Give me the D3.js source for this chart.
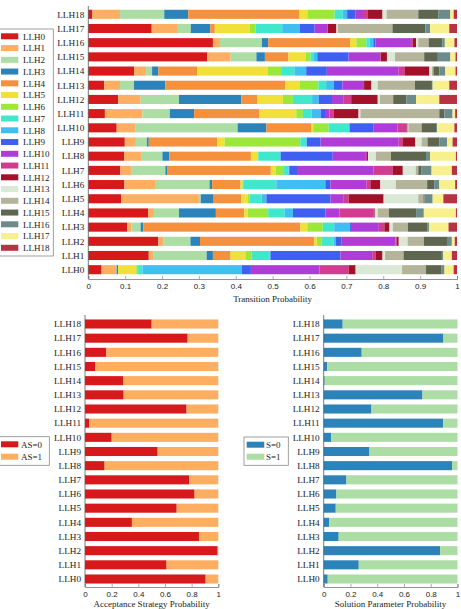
<!DOCTYPE html>
<html lang="en">
<head>
<meta charset="UTF-8">
<title>LLH probabilities</title>
<script src="https://d3js.org/d3.v7.min.js"></script>
<style>
  body { margin: 0; background: #fff; }
  svg { display: block; font-family: "Liberation Serif", "DejaVu Serif", serif; }
  .tick text { font-size: 8px; fill: #222; }
  .ylab { font-size: 9.2px; fill: #222; }
  .legend text { font-size: 9px; fill: #222; }
  .title { font-size: 9px; fill: #222; }
</style>
</head>
<body>
<svg width="461" height="609"></svg>
<script>

var states = ["LLH0","LLH1","LLH2","LLH3","LLH4","LLH5","LLH6","LLH7","LLH8","LLH9",
              "LLH10","LLH11","LLH12","LLH13","LLH14","LLH15","LLH16","LLH17","LLH18"];

var stateColours = ["#d7191c","#fdae61","#abdda4","#2b83ba","#f5903d","#f2e03a","#9ce83a",
                    "#3fe8cc","#3fbff0","#3f5ff0","#b03cd8","#d23c90","#a3102a","#dbe8d5",
                    "#b4b49a","#5f6650","#6b8c8a","#f8f08c","#b73243"];

// transition probabilities, one row per current state (LLH0 first), columns = next state
var transition = [
  [0.036,0.039,0.002,0.004,0.000,0.049,0.005,0.012,0.269,0.025,0.186,0.079,0.019,0.126,0.065,0.041,0.009,0.025,0.009],
  [0.164,0.012,0.145,0.017,0.048,0.040,0.017,0.049,0.002,0.190,0.086,0.010,0.018,0.007,0.050,0.104,0.003,0.024,0.014],
  [0.190,0.013,0.074,0.026,0.309,0.008,0.012,0.034,0.005,0.015,0.147,0.003,0.006,0.024,0.044,0.065,0.011,0.008,0.006],
  [0.105,0.012,0.025,0.007,0.426,0.019,0.042,0.031,0.043,0.005,0.073,0.015,0.014,0.009,0.041,0.052,0.005,0.053,0.023],
  [0.163,0.015,0.068,0.100,0.077,0.009,0.056,0.044,0.023,0.088,0.038,0.093,0.003,0.008,0.030,0.074,0.021,0.087,0.003],
  [0.089,0.211,0.005,0.035,0.075,0.018,0.004,0.033,0.013,0.174,0.036,0.013,0.095,0.094,0.014,0.003,0.022,0.029,0.037],
  [0.098,0.083,0.148,0.007,0.077,0.005,0.002,0.090,0.133,0.014,0.098,0.010,0.027,0.042,0.085,0.019,0.014,0.043,0.005],
  [0.087,0.029,0.093,0.006,0.280,0.014,0.022,0.012,0.002,0.021,0.208,0.051,0.028,0.035,0.007,0.009,0.027,0.055,0.014],
  [0.097,0.048,0.056,0.019,0.221,0.018,0.002,0.059,0.002,0.141,0.090,0.003,0.003,0.021,0.041,0.095,0.011,0.070,0.003],
  [0.099,0.030,0.030,0.005,0.186,0.020,0.205,0.016,0.002,0.037,0.212,0.010,0.035,0.017,0.016,0.032,0.021,0.015,0.012],
  [0.077,0.050,0.278,0.078,0.122,0.005,0.042,0.055,0.002,0.065,0.065,0.025,0.002,0.002,0.036,0.039,0.003,0.047,0.007],
  [0.045,0.102,0.074,0.066,0.176,0.101,0.018,0.024,0.024,0.012,0.012,0.012,0.067,0.005,0.214,0.014,0.022,0.007,0.005],
  [0.081,0.061,0.104,0.169,0.044,0.069,0.027,0.052,0.018,0.036,0.032,0.020,0.072,0.006,0.036,0.036,0.026,0.063,0.048],
  [0.043,0.043,0.038,0.085,0.325,0.039,0.051,0.021,0.021,0.023,0.056,0.003,0.020,0.017,0.101,0.046,0.002,0.045,0.021],
  [0.124,0.033,0.016,0.017,0.106,0.190,0.037,0.036,0.032,0.056,0.195,0.017,0.066,0.007,0.004,0.016,0.016,0.028,0.004],
  [0.323,0.063,0.070,0.023,0.064,0.046,0.014,0.009,0.009,0.085,0.086,0.001,0.017,0.022,0.079,0.037,0.034,0.014,0.004],
  [0.338,0.019,0.114,0.017,0.222,0.017,0.027,0.009,0.010,0.006,0.096,0.005,0.009,0.006,0.028,0.037,0.007,0.026,0.007],
  [0.172,0.071,0.035,0.053,0.012,0.095,0.016,0.072,0.047,0.041,0.034,0.001,0.024,0.004,0.148,0.089,0.013,0.052,0.021],
  [0.011,0.075,0.120,0.065,0.302,0.021,0.074,0.022,0.012,0.022,0.021,0.012,0.041,0.011,0.086,0.054,0.033,0.009,0.009]
];

// acceptance strategy, LLH0..LLH18
var as0 = [0.905,0.612,0.995,0.855,0.352,0.688,0.822,0.782,0.147,0.545,0.200,0.030,0.762,0.290,0.285,0.075,0.160,0.770,0.500];
var as1 = [0.095,0.388,0.005,0.145,0.648,0.312,0.178,0.218,0.853,0.455,0.800,0.970,0.238,0.710,0.715,0.925,0.840,0.230,0.500];

// solution parameter, LLH0..LLH18
var s0 = [0.030,0.262,0.870,0.112,0.040,0.090,0.095,0.170,0.960,0.342,0.057,0.893,0.357,0.738,0.007,0.027,0.284,0.895,0.142];
var s1 = [0.970,0.738,0.130,0.888,0.960,0.910,0.905,0.830,0.040,0.658,0.943,0.107,0.643,0.262,0.993,0.973,0.716,0.105,0.858];

var topTicks = [0,0.1,0.2,0.3,0.4,0.5,0.6,0.7,0.8,0.9,1];
var lowTicks = [0,0.2,0.4,0.6,0.8,1];

var svg = d3.select("svg");

// one stacked horizontal bar panel
function drawPanel(p) {
  var x = d3.scaleLinear().domain([0,1]).range([p.left, p.right]);
  var y = d3.scalePoint().domain(states.slice().reverse()).range([p.top, p.bottom]);
  var bh = y.step() * 0.64;

  var series = d3.stack().keys(p.keys)(p.rows);
  var g = svg.append("g");
  g.selectAll("g.layer")
    .data(series)
    .enter().append("g")
      .attr("fill", function (d, i) { return p.colours[i]; })
    .selectAll("rect")
    .data(function (d) { return d; })
    .enter().append("rect")
      .attr("x", function (d) { return x(d[0]); })
      .attr("width", function (d) { return Math.max(0, x(d[1]) - x(d[0])); })
      .attr("y", function (d) { return y(d.data.state) - bh/2; })
      .attr("height", bh);

  // left axis line + labels
  g.append("line")
    .attr("x1", p.left).attr("x2", p.left)
    .attr("y1", p.axisTop).attr("y2", p.axisY)
    .attr("stroke", "#555").attr("stroke-width", 0.8);
  g.selectAll("text.ylab")
    .data(states)
    .enter().append("text")
      .attr("class", "ylab")
      .attr("x", p.left - 4)
      .attr("y", function (d) { return y(d) + 3.3; })
      .attr("text-anchor", "end")
      .text(function (d) { return d; });

  var ax = g.append("g")
    .attr("transform", "translate(0," + p.axisY + ")")
    .call(d3.axisBottom(x).tickValues(p.ticks).tickSize(-3).tickPadding(4)
      .tickFormat(function (d) { return d3.format("~g")(d); }));
  ax.select(".domain").attr("stroke", "#777").attr("stroke-width", 0.8);
  ax.selectAll(".tick line").attr("stroke", "#777").attr("stroke-width", 0.6);
  ax.selectAll(".tick text").attr("font-family", null).attr("font-size", null);

  g.append("text")
    .attr("class", "title")
    .attr("x", (p.left + p.right) / 2)
    .attr("y", p.titleY)
    .attr("text-anchor", "middle")
    .text(p.title);
}

function drawLegend(l) {
  var g = svg.append("g").attr("class", "legend");
  g.append("rect")
    .attr("x", l.x).attr("y", l.y)
    .attr("width", l.w).attr("height", l.h)
    .attr("fill", "#fff").attr("stroke", "#888").attr("stroke-width", 0.8);
  var item = g.selectAll("g.item")
    .data(l.labels)
    .enter().append("g")
      .attr("transform", function (d, i) { return "translate(0," + (l.first + i * l.gap) + ")"; });
  item.append("rect")
    .attr("x", l.sx).attr("y", -3)
    .attr("width", l.sw).attr("height", 6)
    .attr("fill", function (d, i) { return l.colours[i]; });
  item.append("text")
    .attr("x", l.tx).attr("y", 3.2)
    .text(function (d) { return d; });
}

// build tables
var transRows = states.map(function (s, i) {
  var o = { state: s };
  states.forEach(function (k, j) { o[k] = transition[i][j]; });
  return o;
});
var asRows = states.map(function (s, i) { return { state: s, "AS=0": as0[i], "AS=1": as1[i] }; });
var sRows = states.map(function (s, i) { return { state: s, "S=0": s0[i], "S=1": s1[i] }; });

drawPanel({ rows: transRows, keys: states, colours: stateColours,
  left: 88.3, right: 457, top: 14.3, bottom: 269.7, axisTop: 6, axisY: 279,
  ticks: topTicks, title: "Transition Probability", titleY: 302 });

drawPanel({ rows: asRows, keys: ["AS=0","AS=1"], colours: ["#d7191c","#fdae61"],
  left: 85, right: 218.3, top: 324, bottom: 579, axisTop: 315, axisY: 587,
  ticks: lowTicks, title: "Acceptance Strategy Probability", titleY: 606.5 });

drawPanel({ rows: sRows, keys: ["S=0","S=1"], colours: ["#2b83ba","#abdda4"],
  left: 323.7, right: 457.5, top: 324, bottom: 579, axisTop: 315, axisY: 587,
  ticks: lowTicks, title: "Solution Parameter Probability", titleY: 606.5 });

drawLegend({ labels: states, colours: stateColours, x: -1, y: 29, w: 54.3, h: 227,
  first: 36.3, gap: 11.75, sx: 1, sw: 17.3, tx: 23 });
drawLegend({ labels: ["AS=0","AS=1"], colours: ["#d7191c","#fdae61"], x: -1, y: 436.7, w: 50.3, h: 28.6,
  first: 444.3, gap: 12.4, sx: 1, sw: 17.3, tx: 21 });
drawLegend({ labels: ["S=0","S=1"], colours: ["#2b83ba","#abdda4"], x: 244, y: 437, w: 44.3, h: 28.3,
  first: 444.7, gap: 12, sx: 246.7, sw: 17.6, tx: 266 });

</script>
</body>
</html>
